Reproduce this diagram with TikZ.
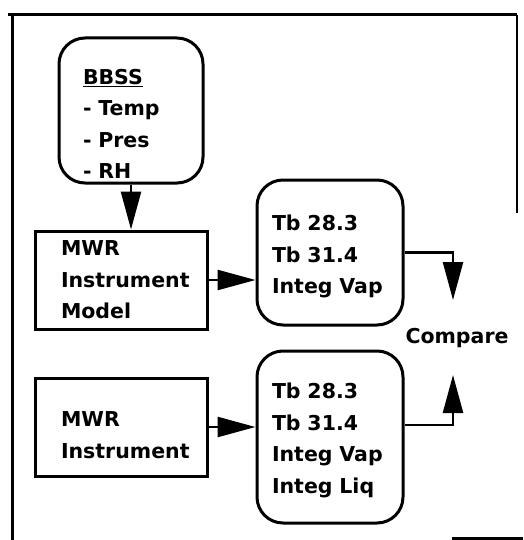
\documentclass[tikz,border=0pt]{standalone}
\usepackage{fontspec}
\setmainfont{DejaVu Sans}
\usepackage{tikz}
\usetikzlibrary{arrows.meta,positioning}

\begin{document}
\begin{tikzpicture}[
 x=1pt,y=-1pt,
 font=\fontsize{20.5}{31.5}\selectfont\bfseries,
 listbox/.style={draw,line width=3pt,rounded corners=26pt,align=left,inner xsep=15pt,inner ysep=0pt,text width=116pt},
 modelbox/.style={draw,line width=3pt,align=left,inner xsep=26pt,inner ysep=0pt,text width=120pt,minimum height=98pt,
   execute at begin node={\hyphenpenalty=10000}},
 flow/.style={line width=2.5pt,-{Triangle[length=38pt,width=20pt]}},
 edge/.style={line width=3pt},
]
\fill[white] (0,0) rectangle (523,540);
\useasboundingbox (0,0) rectangle (523,540);
% page border
\draw[edge] (8,15) -- (517,15);
\draw[edge] (12,15) -- (12,540);
\draw[line width=1.5pt] (517,15) -- (517,213);
\draw[edge] (452,538) -- (523,538);

\node[listbox,inner xsep=24pt,text width=96pt,minimum height=145pt] (bbss) at (131,110.5) {\rule{0pt}{42pt}\underline{BBSS}\\- Temp\\- Pres\\- RH};
\node[modelbox] (model) at (121,280) {MWR\\Instrument\\Model};
\node[modelbox,below=46pt of model] (instr) {\rule{0pt}{31pt}MWR\\Instrument};
\node[listbox,minimum height=145pt] (upres) at (330,252.5) {\rule{0pt}{24pt}Tb 28.3\\Tb 31.4\\Integ Vap};
\node[listbox,minimum height=172pt,below=23pt of upres] (lowres) {\rule{0pt}{22pt}Tb 28.3\\Tb 31.4\\Integ Vap\\Integ Liq};
\node[inner sep=0pt] (compare) at (457,338) {Compare};
\coordinate (cmpin) at (453,300);
\coordinate (cmpout) at (453,375);

\draw[flow] (bbss.south) -- (bbss.south |- model.north);
\draw[flow] (model.east) -- (model.east -| upres.west);
\draw[flow] (instr.east) -- (instr.east -| lowres.west);
\draw[flow] (upres.east) -| (cmpin);
\draw[flow] ([yshift=12pt]lowres.east) -| (cmpout);
\end{tikzpicture}
\end{document}
